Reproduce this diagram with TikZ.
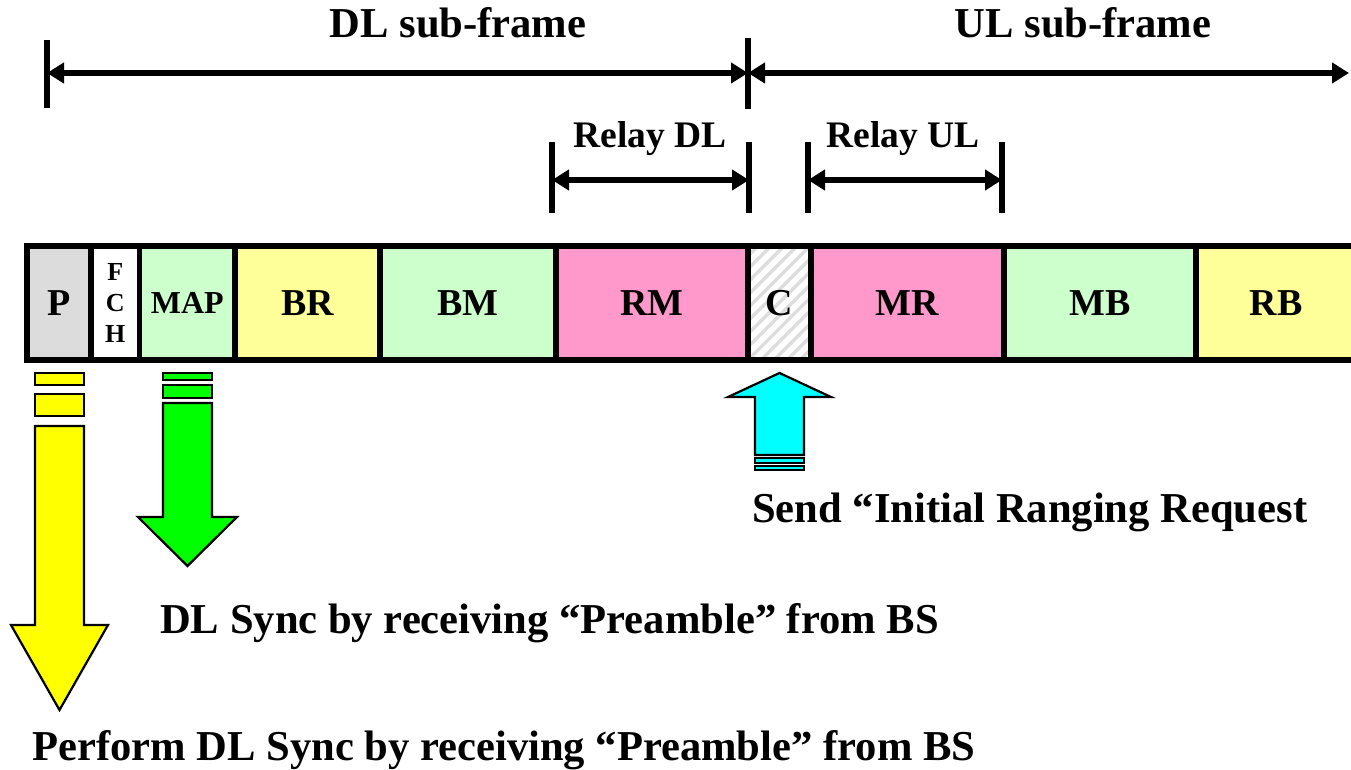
\documentclass[tikz,border=0pt]{standalone}
\usepackage{fontspec}
\setmainfont{Liberation Serif}
\usetikzlibrary{arrows.meta}
\definecolor{fldgray}{HTML}{DCDCDC}
\definecolor{fldgreen}{HTML}{CCFFCC}
\definecolor{fldyellow}{HTML}{FFFF99}
\definecolor{fldpink}{HTML}{FF99CC}
\definecolor{hatchgray}{HTML}{DDDDDD}
\definecolor{arryellow}{HTML}{FFFF00}
\definecolor{arrgreen}{HTML}{00FF00}
\definecolor{arrcyan}{HTML}{00FFFF}
\begin{document}
\begin{tikzpicture}[x=1pt,y=-1pt,
  field/.style={draw=black, line width=5.5pt, inner sep=0pt, minimum height=114pt,
                font=\bfseries\fontsize{38}{38}\selectfont},
  dimline/.style={line width=5.5pt,
                  {Triangle[length=17pt,width=20pt]}-{Triangle[length=17pt,width=20pt]}},
  tickline/.style={line width=6pt},
  bigtext/.style={font=\bfseries\fontsize{42.6}{42.6}\selectfont, inner sep=0pt},
  midtext/.style={font=\bfseries\fontsize{37.5}{37.5}\selectfont, inner sep=0pt},
  blockarrow/.style={draw=black, line width=2.2pt, line join=miter},
  hatched/.style={path picture={
      \foreach \i in {-12,...,12}
        \draw[hatchgray, line width=3.5pt]
          ([xshift=\i*13pt]path picture bounding box.south west) -- ++(160,-160);}},
]
\useasboundingbox (0,0) rectangle (1351,770);
\clip (0,0) rectangle (1351,770);

% ---- sub-frame dimension lines ----
\coordinate (fl) at (47,73);
\coordinate (fm) at (748,73);
\coordinate (fr) at (1349,73);
\draw[tickline] (47,40) -- (47,108);
\draw[tickline] (748,38) -- (748,109);
\draw[dimline] (fl) -- (fm);
\draw[dimline] (fm) -- (fr);
\node[bigtext, anchor=base] (dlsub) at (458,38) {DL sub-frame};
\node[bigtext, anchor=base] (ulsub) at (1083,38) {UL sub-frame};

% ---- relay zones ----
\coordinate (rdl1) at (552,180);
\coordinate (rdl2) at (749,180);
\coordinate (rul1) at (808,180);
\coordinate (rul2) at (1002,180);
\foreach \x in {552,749,808,1002}
  \draw[tickline] (\x,142) -- (\x,213);
\draw[dimline] (rdl1) -- (rdl2);
\draw[dimline] (rul1) -- (rul2);
\node[midtext, anchor=base] (relaydl) at (650,148) {Relay DL};
\node[midtext, anchor=base] (relayul) at (903,148) {Relay UL};

% ---- frame fields ----
\node[field, fill=fldgray,   minimum width=64pt]   (P)   at (59,303)    {P};
\node[field, fill=white,     minimum width=48.5pt, align=center,
      font=\bfseries\fontsize{26}{31}\selectfont]  (FCH) at (115.25,303) {F\\C\\H};
\node[field, fill=fldgreen,  minimum width=95.5pt,
      font=\bfseries\fontsize{32}{32}\selectfont]  (MAP) at (187.25,303) {MAP};
\node[field, fill=fldyellow, minimum width=145pt]  (BR)  at (307.5,303)  {BR};
\node[field, fill=fldgreen,  minimum width=176pt]  (BM)  at (468,303)    {BM};
\node[field, fill=fldpink,   minimum width=192pt]  (RM)  at (652,303)    {RM};
\node[field, fill=white, hatched, minimum width=63pt] (C) at (779.5,303) {C};
\node[field, fill=fldpink,   minimum width=193pt]  (MR)  at (907.5,303)  {MR};
\node[field, fill=fldgreen,  minimum width=192pt]  (MB)  at (1100,303)   {MB};
\node[field, fill=fldyellow, minimum width=160pt]  (RB)  at (1276,303)   {RB};

% ---- yellow down arrow (preamble) ----
\path[blockarrow, fill=arryellow] (35,373) rectangle (84,385);
\path[blockarrow, fill=arryellow] (35,394) rectangle (84,416);
\path[blockarrow, fill=arryellow]
  (35,426) -- (84,426) -- (84,625) -- (108,625) -- (59.5,710)
  -- (11,625) -- (35,625) -- cycle;

% ---- green down arrow (MAP) ----
\path[blockarrow, fill=arrgreen] (163,373) rectangle (212,380);
\path[blockarrow, fill=arrgreen] (163,385) rectangle (212,398);
\path[blockarrow, fill=arrgreen]
  (163,403) -- (212,403) -- (212,517) -- (237,517) -- (187.5,566)
  -- (138,517) -- (163,517) -- cycle;

% ---- cyan up arrow (ranging) ----
\path[blockarrow, fill=arrcyan]
  (755,455) -- (755,397) -- (728,397) -- (779.5,373) -- (831,397)
  -- (804,397) -- (804,455) -- cycle;
\path[blockarrow, fill=arrcyan] (755,458) rectangle (804,463);
\path[blockarrow, fill=arrcyan] (755,466) rectangle (804,470);

% ---- captions ----
\node[bigtext, anchor=base west] (ranging) at (752,522) {Send “Initial Ranging Request};
\node[bigtext, anchor=base west] (syncmap) at (160,633) {DL Sync by receiving “Preamble” from BS};
\node[bigtext, anchor=base west] (syncpre) at (32,760) {Perform DL Sync by receiving “Preamble” from BS};
\end{tikzpicture}
\end{document}
